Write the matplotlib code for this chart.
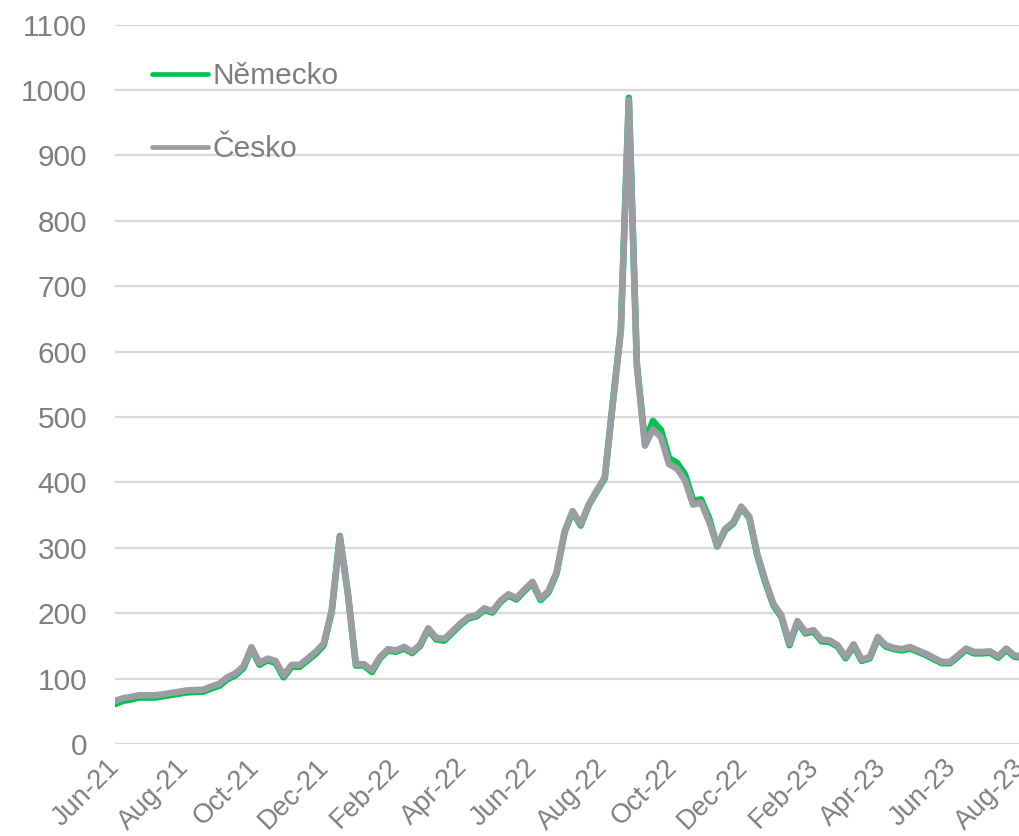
import matplotlib
matplotlib.use("Agg")
import matplotlib.pyplot as plt
import matplotlib.dates as mdates
from matplotlib.lines import Line2D
import pandas as pd

# ---- data (weekly) ----
start_date = "2021-06-01"
cesko = [
    65.8, 70, 72, 74.5, 74.5, 74.5, 76, 78, 80, 82,
    82.5, 83, 88, 92, 102, 108, 119, 148, 124, 130.6,
    127, 105, 121, 121, 130.6, 141, 153.6, 205, 317, 230,
    122, 122, 113, 133, 145, 143, 148.5, 141, 152, 177,
    162.5, 160.6, 172, 184, 194, 197, 207.5, 203, 219, 229,
    223, 236, 248, 222, 234, 262.5, 325, 356, 336, 366,
    387.5, 407.5, 520, 631, 985, 578, 456, 481, 469, 428,
    421, 403, 366, 369, 340, 303, 329, 339, 363, 347.6,
    290.7, 250, 214.5, 196.7, 153.4, 188, 171, 174, 159.5, 158.5,
    151, 133, 152.4, 129, 133, 163.6, 151, 147, 145, 148.4,
    143, 138, 131.6, 125.5, 125.5, 135.6, 146, 140.7, 140.7, 141.7,
    134, 146, 135.6, 134,
]
nemecko = [
    61, 66, 68, 71, 71, 71, 73, 75, 77, 79,
    79.5, 80, 85, 89, 99, 105, 116, 146, 121, 128,
    124, 102, 118, 118, 128, 138, 151, 203, 318, 231,
    120, 120, 110, 131, 143, 141, 146, 139, 150, 175,
    160, 158, 170, 182, 192, 195, 205, 201, 217, 227,
    221, 234, 246, 220, 232, 261, 324, 355, 334, 365,
    386, 406, 522, 634, 988, 580, 462, 494, 480, 437,
    430, 412, 372, 374, 345, 302, 327, 337, 361, 346,
    288, 247, 212, 194, 151, 186, 169, 172, 157, 156,
    149, 131, 150, 127, 131, 161, 149, 145, 143, 146,
    141, 136, 129.5, 123.5, 123.5, 133.5, 144, 138.5, 138.5, 139.5,
    132, 144, 133.5, 132,
]
series_names = ["Německo", "Česko"]
y_ticks = list(range(0, 1101, 100))

dates = pd.date_range(start_date, periods=len(cesko), freq="7D")

GREEN = "#00C24E"
GRAY = "#9A9DA2"
TEXT = "#7F7F7F"
GRID = "#D9D9D9"

plt.rcParams["font.family"] = ["Liberation Sans", "DejaVu Sans"]

fig = plt.figure(figsize=(10.2, 8.36), dpi=100)
ax = fig.add_axes([115 / 1020, 92 / 836, (1025 - 115) / 1020, (744 - 24.5) / 836])

ax.plot(dates, nemecko, color=GREEN, lw=4.7, solid_joinstyle="round", solid_capstyle="round", zorder=3)
ax.plot(dates, cesko, color=GRAY, lw=4.7, solid_joinstyle="round", solid_capstyle="round", zorder=4)

ax.set_ylim(0, 1100)
ax.set_yticks(y_ticks)
ax.set_xlim(pd.Timestamp("2021-06-01"), pd.Timestamp("2021-06-01") + pd.Timedelta(days=(1025 - 115) / 1.147))

ax.xaxis.set_major_locator(mdates.MonthLocator(bymonth=[2, 4, 6, 8, 10, 12], bymonthday=1))
ax.xaxis.set_major_formatter(mdates.DateFormatter("%b-%y"))

ax.grid(axis="y", color=GRID, lw=1.6)
ax.set_axisbelow(True)
for s in ax.spines.values():
    s.set_visible(False)

ax.tick_params(axis="y", length=0, pad=20, labelsize=21.5, labelcolor=TEXT)
ax.tick_params(axis="x", length=0, pad=14, labelsize=19.5, labelcolor=TEXT)
for lab in ax.get_xticklabels():
    lab.set_rotation(45)
    lab.set_ha("right")
    lab.set_va("center")
    lab.set_rotation_mode("anchor")

handles = [Line2D([], [], color=GREEN, lw=3.4, solid_capstyle="round"),
           Line2D([], [], color=GRAY, lw=3.4, solid_capstyle="round")]
leg = ax.legend(handles, series_names, loc="upper left", bbox_to_anchor=(0.028, 0.964),
                frameon=False, fontsize=21.5, handlelength=1.85, handletextpad=0.15,
                labelspacing=1.5, borderaxespad=0)
for t in leg.get_texts():
    t.set_color(TEXT)

fig.savefig("out.png", dpi=100)
